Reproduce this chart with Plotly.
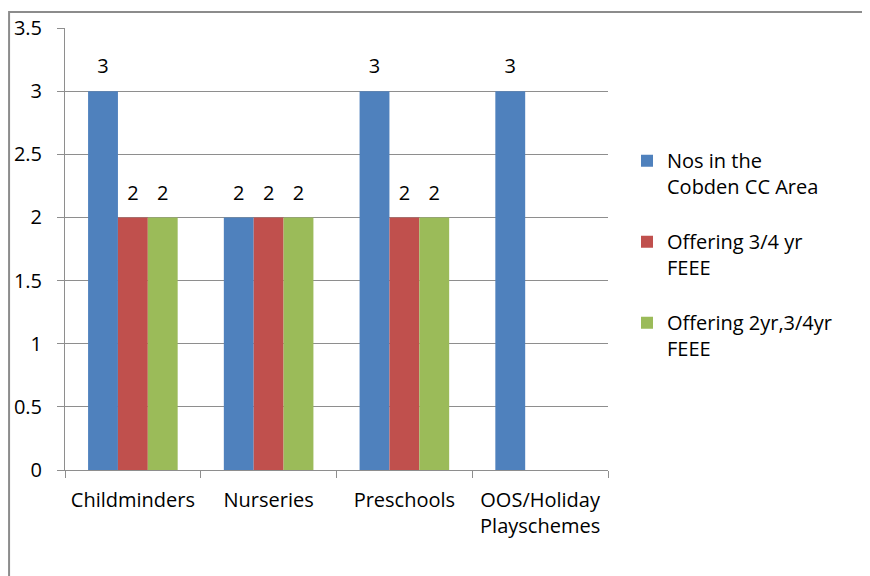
import plotly.graph_objects as go

categories = ["Childminders", "Nurseries", "Preschools", "OOS/Holiday<br>Playschemes"]
series_names = ["Nos in the<br>Cobden CC Area", "Offering 3/4 yr<br>FEEE", "Offering 2yr,3/4yr<br>FEEE"]
nos_in_area = [3, 2, 3, 3]
offering_34 = [2, 2, 2, None]
offering_2_34 = [2, 2, 2, None]
colors = ["#4F81BD", "#C0504D", "#9BBB59"]
y_ticks = [0, 0.5, 1, 1.5, 2, 2.5, 3, 3.5]

FONT = "Open Sans"
series_values = [nos_in_area, offering_34, offering_2_34]

fig = go.Figure()
for i, (name, vals, col) in enumerate(zip(series_names, series_values, colors)):
    texts = [("" if v is None else
              f"<span style='font-size:20px'>{v}</span><br>\u00a0") for v in vals]
    fig.add_trace(go.Bar(
        x=categories, y=vals, name=name,
        marker=dict(color=col, line=dict(width=0)),
        text=texts, textposition="outside", cliponaxis=False,
        textfont=dict(family=FONT, size=9, color="#000000"),
        legendgroup=f"g{i}",
    ))

fig.add_shape(type="rect", xref="paper", yref="paper",
              x0=-0.103, x1=2.0, y0=-1.0, y1=1.036,
              line=dict(color="#8c8c8c", width=2), layer="below")

fig.update_layout(
    width=870, height=576,
    margin=dict(l=57, r=270, t=20, b=114),
    paper_bgcolor="white", plot_bgcolor="white",
    barmode="group", bargap=0.34, bargroupgap=0,
    font=dict(family=FONT, size=20, color="#000000"),
    showlegend=True,
    legend=dict(x=1.035, y=0.744, xanchor="left", yanchor="top",
                font=dict(family=FONT, size=20, color="#000000"),
                valign="top", tracegroupgap=26, traceorder="grouped",
                bgcolor="rgba(0,0,0,0)"),
    xaxis=dict(type="category", showline=True, linecolor="#8e8e8e", linewidth=1,
               ticks="outside", tickson="boundaries", ticklen=7, tickcolor="#8e8e8e",
               showgrid=False, ticklabelstandoff=12, automargin=False,
               tickfont=dict(family=FONT, size=20, color="#000000")),
    yaxis=dict(range=[0, 3.5], tickvals=y_ticks, ticktext=[f"{t:g}" for t in y_ticks],
               showline=True, linecolor="#8e8e8e", linewidth=1,
               ticks="outside", ticklen=7, tickcolor="#8e8e8e",
               showgrid=True, gridcolor="#8e8e8e", gridwidth=1, zeroline=False,
               ticklabelstandoff=11, automargin=False,
               tickfont=dict(family=FONT, size=20, color="#000000")),
)

fig.write_html("out.html")
